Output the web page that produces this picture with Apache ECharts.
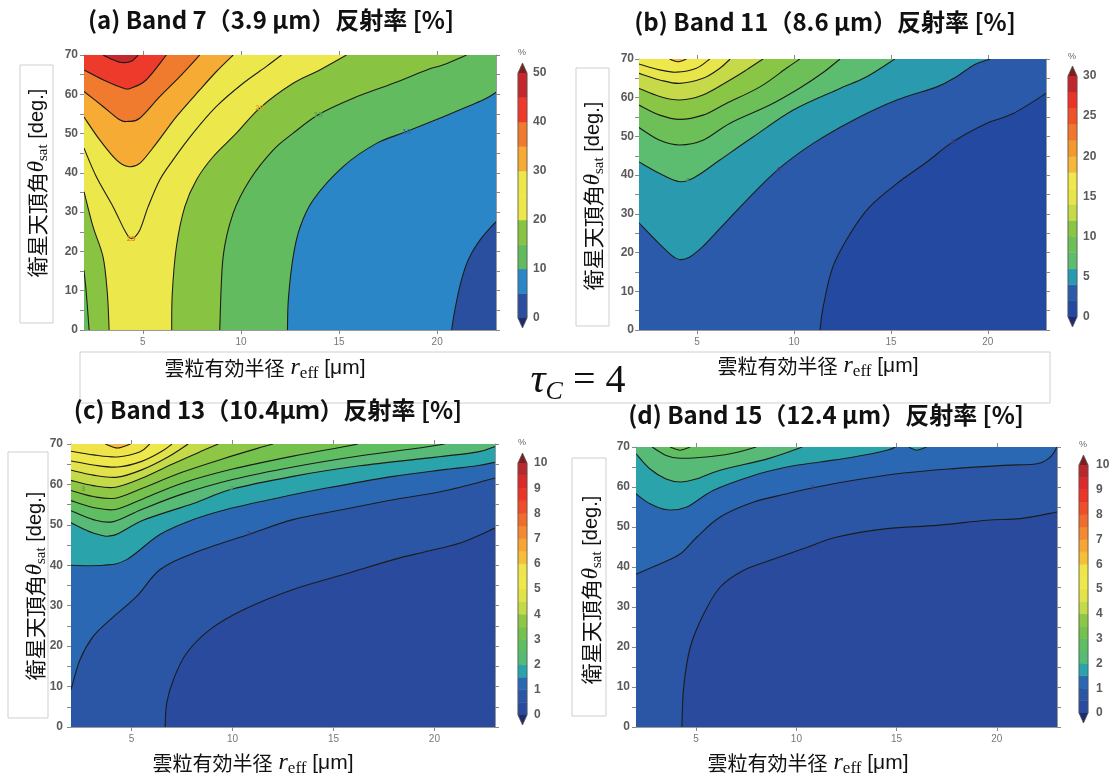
<!DOCTYPE html>
<html>
<head>
<meta charset="utf-8">
<title>tau_C = 4</title>
<script src="https://cdn.jsdelivr.net/npm/echarts@6.0.0/dist/echarts.min.js"></script>
<style>
html,body{margin:0;padding:0;background:#fff;}
#chart{width:1116px;height:783px;}
</style>
</head>
<body>
<div id="chart"></div>
<script>
// ================= DATA =================
const xTickValues = [5, 10, 15, 20];
const yTickValues = [0, 10, 20, 30, 40, 50, 60, 70];
const yTickMarks = [0, 5, 10, 15, 20, 25, 30, 35, 40, 45, 50, 55, 60, 65, 70];

const titles = [
  '(a) Band 7（3.9 μm）反射率 [%]',
  '(b) Band 11（8.6 μm）反射率 [%]',
  '(c) Band 13（10.4μｍ）反射率 [%]',
  '(d) Band 15（12.4 μm）反射率 [%]'
];

// contour levels (colour-bar boundaries)
const aLevels = [0, 5, 10, 15, 20, 25, 30, 35, 40, 45, 50];
const bLevels = [0, 2, 4, 6, 8, 10, 12, 14, 16, 18, 20, 22, 24, 26, 28, 30];
const cdLevels = [0, 0.5, 1, 1.5, 2, 2.5, 3, 3.5, 4, 4.5, 5, 5.5, 6, 6.5, 7, 7.5, 8, 8.5, 9, 9.5, 10];
const aCbTicks = [0, 10, 20, 30, 40, 50];
const bCbTicks = [0, 5, 10, 15, 20, 25, 30];
const cdCbTicks = [0, 1, 2, 3, 4, 5, 6, 7, 8, 9, 10];

// ---- panel (a) contour lines [reff, theta] ----
const aLine5 = [[20.74,0],[20.9,5],[21.2,12],[21.6,18],[22.2,23],[23,27.6]];
const aLine10 = [[12.37,0],[12.42,8],[12.66,18.6],[13.0,26],[13.68,33.1],[15.21,41.6],[16.91,47.5],[18.45,50.5],[20.32,54.3],[22.36,58.6],[23,60.5]];
const aLine15L = [[2,15.2],[2.12,9.3],[2.26,0]];
const aLine15R = [[8.92,0],[9.09,18.6],[9.6,29.7],[10.45,38.2],[11.64,45.8],[12.66,50.1],[13.94,54.8],[15.72,59],[17.77,62.8],[19.47,66.2],[20.32,67.5],[21.5,70]];
const aLine20L = [[2,35.2],[2.46,26.3],[2.97,18.6],[3.19,9.3],[3.28,0]];
const aLine20R = [[6.47,0],[6.5,9.3],[6.71,21.2],[7.14,31.4],[7.73,38.2],[8.58,44.1],[9.77,50.1],[10.96,56.5],[12.66,62.8],[14.02,66.2],[15.38,70]];
const aLine25 = [[2,46.3],[2.63,39],[3.48,31.4],[4.07,25.4],[4.41,23.3],[4.84,25.4],[5.27,31.4],[5.86,38.2],[6.54,43.3],[7.56,50.1],[8.75,56.9],[10.11,62.8],[11.3,67.1],[12.07,70]];
const aLine30 = [[2,54.2],[2.8,48.4],[3.65,43.3],[4.24,41.6],[4.84,42.4],[5.69,47.5],[6.71,54.3],[7.9,61.1],[8.75,65.8],[9.6,70]];
const aLine35 = [[2,60.7],[2.97,56.9],[3.82,53.5],[4.24,53.1],[4.84,53.9],[5.86,59.4],[6.88,64.5],[7.9,70]];
const aLine40 = [[2,66.2],[2.97,63.7],[3.99,61.6],[4.41,61.6],[5.18,63.7],[6.2,70]];
const aLine45 = [[2.97,70],[3.48,68.8],[3.9,68.1],[4.41,68.4],[4.76,70]];
const aLabels = [[4.4,23.3,'25'],[10.96,56.5,'20'],[13.94,54.8,'15'],[18.45,50.5,'10']];

// ---- panel (b) ----
const bLine2 = [[11.34,0],[11.5,5.9],[12.0,16.3],[12.9,24.9],[13.9,31.8],[15.3,37.8],[16.85,43.4],[18.2,48.6],[19.95,53.4],[21.3,55.9],[23,61.1]];
const bLine4 = [[2,27.7],[3.0,22.5],[3.7,19.2],[4.1,18.2],[4.6,18.8],[5.3,21.6],[6.17,26.2],[7.55,33.5],[9.18,41.5],[10.99,48.2],[13.06,54.2],[15.3,59.4],[17.37,62.8],[18.4,65.5],[19.26,68.4],[20.12,70]];
const bLine6 = [[2,43.4],[3.07,40.4],[4.1,38.3],[4.96,39.7],[6.17,43.9],[7.9,49.9],[9.96,56.8],[12.2,62],[13.75,65.4],[15.2,70]];
const bLine8 = [[2,52.3],[3.07,49],[4.1,47.8],[5.3,49],[6.7,53.4],[8.75,58.1],[10.3,62.5],[11.5,66.5],[12.37,70]];
const bLine10 = [[2,58.1],[3.07,55.5],[4.1,54.4],[5.3,55.5],[6.5,58.5],[8.24,62.8],[9.6,67.6],[10.3,70]];
const bLine12 = [[2,62.4],[3.07,60.3],[4.1,59.4],[5.3,60.7],[6.7,64.6],[7.55,67.2],[8.4,70]];
const bLine14 = [[2,66.3],[3.07,64.6],[4.1,63.7],[5.3,65],[6.17,67.6],[6.7,70]];
const bLine16 = [[2,68.7],[3.07,67.2],[3.93,66.6],[4.96,67.6],[5.65,70]];
const bLine18 = [[3.58,70],[4.0,69.3],[4.45,70]];
const bLabels = [[18.2,48.6,'2'],[9.18,41.5,'4'],[4.53,38.5,'6']];

// ---- panel (c) ----
const cLine05 = [[6.66,0],[6.74,5.9],[7.07,11.7],[7.73,18.3],[8.88,24.1],[10.54,29],[13.0,34],[15.5,37.7],[17.97,41.4],[19.6,43.4],[21.27,45.5],[23,49.2]];
const cLine1 = [[2,9.2],[2.45,16.7],[3.1,22.4],[3.93,26.5],[5.25,32.3],[6.4,38.9],[8.06,43],[10.83,47.7],[13,51.3],[15.5,53.8],[17.97,56.2],[20.4,58.3],[23,61.6]];
const cLine15 = [[2,40],[3.6,40],[4.76,41.4],[6.4,47.6],[8.06,51.3],[9.7,53.8],[12.19,56.6],[14.66,59.1],[17.97,62],[20.4,63.6],[22.1,64.6],[23,65.5]];
const cLine2 = [[2,50.5],[3.1,48],[4.1,47.4],[5.6,51.2],[8.06,55.3],[9.96,58.8],[13,62],[16.3,64.6],[19.6,66.5],[22.1,68],[23,69.4]];
const cLine25 = [[2,53.5],[3.1,51.3],[4.1,50.8],[5.5,53.8],[7.5,57.6],[10,61.2],[13,64.3],[16.5,67.2],[19.5,69.2],[20.5,70]];
const cLine3 = [[2,56],[3.1,54.3],[4.2,53.8],[5.5,56.3],[7.5,60.3],[10,63.8],[13,67],[15.5,69.3],[16.2,70]];
const cLine35 = [[2,58.5],[3.1,57],[4.2,56.6],[5.5,59],[7.5,63],[9.5,66.3],[11.5,69.3],[12,70]];
const cLine4 = [[2,61],[3.1,59.7],[4.2,59.3],[5.5,61.5],[7,65],[8.5,68.3],[9.3,70]];
const cLine45 = [[2,63.5],[3.1,62.3],[4.3,61.8],[5.5,63.6],[6.8,66.8],[7.8,70]];
const cLine5 = [[2,65.8],[3.1,64.8],[4.3,64.3],[5.5,65.7],[6.5,68.2],[7,70]];
const cLine55 = [[2,68.2],[3.1,67.3],[4.3,66.8],[5.4,68],[5.9,70]];
const cLine6 = [[3.7,70],[4.3,69],[4.95,70]];
const cLabels = [[9.96,58.8,'2'],[2.6,58.9,'3'],[10.83,47.7,'1']];

// ---- panel (d) ----
const dLine05 = [[4.29,0],[4.38,10],[4.71,20],[5.38,28.3],[6.2,35],[7.37,39.2],[8.7,41.7],[10.36,44.6],[12.03,47.5],[14.52,49.6],[17.0,50.4],[19.5,51.7],[21.17,52.1],[23,53.75]];
const dLine1 = [[2,38.2],[3.21,40.8],[4.21,43.3],[5.04,47.5],[6.2,52.5],[7.87,56.25],[9.53,58.3],[10.83,59.8],[12.86,61.7],[15.35,63.5],[17.85,64.6],[20.34,65.4],[22.0,65.8],[22.67,67.5],[23,70]];
const dLine15 = [[2,58.3],[2.7,55.8],[3.55,54.3],[4.54,55],[5.87,59.2],[7.87,62.9],[9.53,65],[11.2,66.25],[12.86,67.5],[14.52,69.2],[14.94,70]];
const dLine15b = [[15.6,70],[16.0,69.2],[16.5,70]];
const dLine2 = [[2,68.3],[2.7,64.5],[3.5,62],[4.21,61.25],[5,62],[6.2,64.2],[8.6,67.1],[10.3,70]];
const dLine25 = [[2.8,70],[3.5,67.9],[4.2,67.2],[5.5,67.5],[6.7,68.3],[8,70]];
const dLine3 = [[3.7,70],[4.2,69.2],[4.7,70]];
const dLabels = [[10.83,59.8,'1']];

// ================= STYLE / LAYOUT =================
const aColors = ['#2a4f9f','#2a86c6','#62bc5f','#88c441','#ece74a','#ece84b','#f6ab34','#f07a2d','#ed3a2a','#c4282d'];
const bColors = ['#2349a0','#2c5aab','#2a9aae','#5cbd70','#6dc058','#8ac645','#c5d949','#e8e54b','#efe84b','#f5b83a','#f4992f','#f0772d','#ee532a','#ea3427','#c0282c'];
const cdColors = ['#2a4a9e','#2b56a6','#2b68b4','#2aa4aa','#57ba76','#60be62','#74c24d','#8ec745','#c4da49','#e2e24b','#efe84b','#efe44a','#f6bf3a','#f7a535','#f38a31','#f06c2d','#ee4f2a','#eb3527','#dc2a28','#b8282d'];
const overColor = '#7d1f20', underColor = '#1f2b6b';

const S = pts => ({s: pts}); // straight edge segment (plot frame)
const FULL = S([[2,0],[23,0],[23,70],[2,70]]);

const aRegions = [
  {band:0, parts:[FULL]},
  {band:1, parts:[aLine5, S([[23,70],[2,70],[2,0]])]},
  {band:2, parts:[aLine10, S([[23,70],[2,70],[2,0]])]},
  {band:3, parts:[aLine15L, aLine15R, S([[2,70]])]},
  {band:4, parts:[aLine20L, aLine20R, S([[2,70]])]},
  {band:5, parts:[aLine25, S([[2,70]])]},
  {band:6, parts:[aLine30, S([[2,70]])]},
  {band:7, parts:[aLine35, S([[2,70]])]},
  {band:8, parts:[aLine40, S([[2,70]])]},
  {band:9, parts:[aLine45]}
];
const bRegions = [
  {band:0, parts:[FULL]},
  {band:1, parts:[bLine2, S([[23,70],[2,70],[2,0]])]},
  {band:2, parts:[bLine4, S([[2,70]])]},
  {band:3, parts:[bLine6, S([[2,70]])]},
  {band:4, parts:[bLine8, S([[2,70]])]},
  {band:5, parts:[bLine10, S([[2,70]])]},
  {band:6, parts:[bLine12, S([[2,70]])]},
  {band:7, parts:[bLine14, S([[2,70]])]},
  {band:8, parts:[bLine16, S([[2,70]])]},
  {band:9, parts:[bLine18]}
];
const cRegions = [
  {band:0, parts:[FULL]},
  {band:1, parts:[cLine05, S([[23,70],[2,70],[2,0]])]},
  {band:2, parts:[cLine1, S([[23,70],[2,70]])]},
  {band:3, parts:[cLine15, S([[23,70],[2,70]])]},
  {band:4, parts:[cLine2, S([[23,70],[2,70]])]},
  {band:5, parts:[cLine25, S([[2,70]])]},
  {band:6, parts:[cLine3, S([[2,70]])]},
  {band:7, parts:[cLine35, S([[2,70]])]},
  {band:8, parts:[cLine4, S([[2,70]])]},
  {band:9, parts:[cLine45, S([[2,70]])]},
  {band:10, parts:[cLine5, S([[2,70]])]},
  {band:11, parts:[cLine55, S([[2,70]])]},
  {band:12, parts:[cLine6]}
];
const dRegions = [
  {band:0, parts:[FULL]},
  {band:1, parts:[dLine05, S([[23,70],[2,70],[2,0]])]},
  {band:2, parts:[dLine1, S([[2,70]])]},
  {band:3, parts:[dLine15, S([[2,70]])]},
  {band:3, parts:[dLine15b]},
  {band:4, parts:[dLine2, S([[2,70]])]},
  {band:5, parts:[dLine25]},
  {band:6, parts:[dLine3]}
];

const panels = [
  {grid:[84,55,412,275], cb:[518,73,9,245], levels:aLevels, colors:aColors, cbTicks:aCbTicks,
   regions:aRegions, lines:[aLine5,aLine10,aLine15L,aLine15R,aLine20L,aLine20R,aLine25,aLine30,aLine35,aLine40,aLine45],
   labels:aLabels, labelColors:['#e0882a','#d9a52a','#4f9f5a','#2f6fb0'], yMargin:6, cbMargin:6},
  {grid:[639,59,407,271], cb:[1068,76,9,241], levels:bLevels, colors:bColors, cbTicks:bCbTicks,
   regions:bRegions, lines:[bLine2,bLine4,bLine6,bLine8,bLine10,bLine12,bLine14,bLine16,bLine18],
   labels:bLabels, labelColors:['#3a3a8a','#4a3f8a','#3f8f8f'], yMargin:5, cbMargin:6},
  {grid:[71,444,424,283], cb:[518,463,9,252], levels:cdLevels, colors:cdColors, cbTicks:cdCbTicks,
   regions:cRegions, lines:[cLine05,cLine1,cLine15,cLine2,cLine25,cLine3,cLine35,cLine4,cLine45,cLine5,cLine55,cLine6],
   labels:cLabels, labelColors:['#4f9f6a','#6a9f4a','#4a3f8a'], yMargin:8, cbMargin:7},
  {grid:[636,447,421,280], cb:[1079,465,9,248], levels:cdLevels, colors:cdColors, cbTicks:cdCbTicks,
   regions:dRegions, lines:[dLine05,dLine1,dLine15,dLine15b,dLine2,dLine25,dLine3],
   labels:dLabels, labelColors:['#4a3f8a'], yMargin:6, cbMargin:8}
];

// ================= RENDER HELPERS =================
function crSegs(pts){
  let s = '';
  for (let i = 0; i < pts.length - 1; i++) {
    const p0 = pts[Math.max(i-1,0)], p1 = pts[i], p2 = pts[i+1], p3 = pts[Math.min(i+2, pts.length-1)];
    const c1 = [p1[0] + (p2[0]-p0[0])/6, p1[1] + (p2[1]-p0[1])/6];
    const c2 = [p2[0] - (p3[0]-p1[0])/6, p2[1] - (p3[1]-p1[1])/6];
    s += 'C' + c1[0].toFixed(2) + ',' + c1[1].toFixed(2) + ' ' + c2[0].toFixed(2) + ',' + c2[1].toFixed(2) + ' ' + p2[0].toFixed(2) + ',' + p2[1].toFixed(2);
  }
  return s;
}
function partsPath(api, parts){
  let d = '';
  parts.forEach(part => {
    const straight = !Array.isArray(part);
    const pts = (straight ? part.s : part).map(p => api.coord(p));
    pts.forEach((p, i) => {
      if (i === 0 || straight) d += (d === '' ? 'M' : 'L') + p[0].toFixed(2) + ',' + p[1].toFixed(2);
    });
    if (!straight) d += crSegs(pts);
  });
  return d + 'Z';
}

const tickFont = 'Liberation Sans';
const grids = [], xAxes = [], yAxes = [], series = [];

function frameAxisX(gi, pos, withLabel){
  return {gridIndex:gi, type:'value', min:2, max:23, position:pos,
    axisLine:{show:true, onZero:false, lineStyle:{color:'#9a9a9a', width:1}},
    axisTick:{show:true, inside:false, length:4, customValues:xTickValues, lineStyle:{color:'#888'}},
    axisLabel:{show:withLabel, customValues:xTickValues, color:'#777', fontSize:10, margin:7, fontFamily:tickFont},
    splitLine:{show:false}};
}
function frameAxisY(gi, pos, withLabel, margin){
  return {gridIndex:gi, type:'value', min:0, max:70, interval:10, position:pos,
    axisLine:{show:true, onZero:false, lineStyle:{color:'#9a9a9a', width:1}},
    axisTick:{show:true, inside:false, length:4, customValues:yTickMarks, lineStyle:{color:'#888'}},
    axisLabel:{show:withLabel, customValues:yTickValues, color:'#5a5a5a', fontSize:12, fontWeight:'bold', margin:margin, fontFamily:tickFont},
    splitLine:{show:false}};
}

panels.forEach((P, gi) => {
  grids.push({left:P.grid[0], top:P.grid[1], width:P.grid[2], height:P.grid[3]});
  const xi = xAxes.length, yi = yAxes.length;
  xAxes.push(frameAxisX(gi,'bottom',true), frameAxisX(gi,'top',false));
  yAxes.push(frameAxisY(gi,'left',true,P.yMargin), frameAxisY(gi,'right',false,0));
  series.push({type:'custom', xAxisIndex:xi, yAxisIndex:yi, clip:true, silent:true, z:2,
    data:P.regions.map(() => [2,0]),
    renderItem:(params, api) => {
      const r = P.regions[params.dataIndex];
      const col = P.colors[r.band];
      return {type:'path', shape:{pathData:partsPath(api, r.parts)}, style:{fill:col, stroke:col, lineWidth:0.6}};
    }});
  series.push({type:'custom', xAxisIndex:xi, yAxisIndex:yi, clip:true, silent:true, z:3,
    data:P.lines.map(() => [2,0]),
    renderItem:(params, api) => {
      const pts = P.lines[params.dataIndex].map(p => api.coord(p));
      return {type:'path', shape:{pathData:'M' + pts[0][0].toFixed(2) + ',' + pts[0][1].toFixed(2) + crSegs(pts)},
        style:{fill:'none', stroke:'#1c1c1c', lineWidth:1.1}};
    }});
  series.push({type:'custom', xAxisIndex:xi, yAxisIndex:yi, clip:true, silent:true, z:4,
    data:P.labels.map(() => [2,0]),
    renderItem:(params, api) => {
      const L = P.labels[params.dataIndex];
      const p = api.coord([L[0], L[1]]);
      return {type:'text', x:p[0], y:p[1], style:{text:L[2], fill:P.labelColors[params.dataIndex], fontSize:8, fontWeight:'bold', fontFamily:tickFont, align:'center', verticalAlign:'middle'}};
    }});
});

panels.forEach((P, k) => {
  const gi = grids.length;
  grids.push({left:P.cb[0], top:P.cb[1], width:P.cb[2], height:P.cb[3]});
  const xi = xAxes.length, yi = yAxes.length;
  const vmax = P.levels[P.levels.length-1];
  xAxes.push({gridIndex:gi, type:'value', min:0, max:1, show:false});
  yAxes.push({gridIndex:gi, type:'value', min:0, max:vmax, position:'right',
    axisLine:{show:false},
    axisTick:{show:true, length:4, customValues:P.cbTicks, lineStyle:{color:'#777'}},
    axisLabel:{customValues:P.cbTicks, color:'#5a5a5a', fontSize:12, fontWeight:'bold', margin:P.cbMargin, fontFamily:tickFont},
    splitLine:{show:false}});
  series.push({type:'custom', xAxisIndex:xi, yAxisIndex:yi, silent:true, z:2,
    data:P.colors.map(() => [0,0]),
    renderItem:(params, api) => {
      const i = params.dataIndex;
      const p0 = api.coord([0, P.levels[i]]), p1 = api.coord([1, P.levels[i+1]]);
      return {type:'rect', shape:{x:p0[0], y:p1[1], width:p1[0]-p0[0], height:p0[1]-p1[1]},
        style:{fill:P.colors[i], stroke:P.colors[i], lineWidth:0.5}};
    }});
  series.push({type:'custom', xAxisIndex:xi, yAxisIndex:yi, silent:true, z:3,
    data:[[0,0]],
    renderItem:(params, api) => {
      const b = api.coord([0,0]), t = api.coord([1,vmax]);
      const x0 = b[0], x1 = t[0], xm = (x0+x1)/2, yb = b[1], yt = t[1], h = 10;
      return {type:'group', children:[
        {type:'polygon', shape:{points:[[x0,yt],[x1,yt],[xm,yt-h]]}, style:{fill:overColor}},
        {type:'polygon', shape:{points:[[x0,yb],[x1,yb],[xm,yb+h]]}, style:{fill:underColor}},
        {type:'polygon', shape:{points:[[x0,yt],[xm,yt-h],[x1,yt],[x1,yb],[xm,yb+h],[x0,yb]]}, style:{fill:'none', stroke:'#555', lineWidth:0.8}}
      ]};
    }});
});

// ================= TEXT (graphic) =================
const cjk = '"Noto Sans CJK JP"';
const serif = '"Liberation Serif"';
function xTitle(cx, cy){
  return {type:'text', x:cx, y:cy, z:10, style:{
    text:'{a|雲粒有効半径}{r| r}{s|eff}{b| [μm]}', align:'center', verticalAlign:'middle',
    rich:{
      a:{fontFamily:cjk, fontSize:20, fill:'#111', lineHeight:28, verticalAlign:'middle'},
      r:{fontFamily:serif, fontStyle:'italic', fontSize:24, fill:'#111', lineHeight:28, verticalAlign:'middle'},
      s:{fontFamily:serif, fontSize:17, fill:'#111', lineHeight:16, verticalAlign:'bottom'},
      b:{fontFamily:'Liberation Sans', fontSize:21, fill:'#111', lineHeight:28, verticalAlign:'middle'}
    }}};
}
function yTitle(cx, cy){
  return {type:'text', x:cx, y:cy, rotation:Math.PI/2, z:10, style:{
    text:'{a|衛星天頂角}{t|θ}{s|sat}{b| [deg.]}', align:'center', verticalAlign:'middle',
    rich:{
      a:{fontFamily:cjk, fontSize:21, fill:'#111', lineHeight:28, verticalAlign:'middle'},
      t:{fontFamily:serif, fontStyle:'italic', fontSize:23, fill:'#111', lineHeight:28, verticalAlign:'middle'},
      s:{fontFamily:serif, fontSize:15, fill:'#111', lineHeight:15, verticalAlign:'bottom'},
      b:{fontFamily:'Liberation Sans', fontSize:20, fill:'#111', lineHeight:28, verticalAlign:'middle'}
    }}};
}
function title(cx, cy, txt){
  return {type:'text', x:cx, y:cy, z:10, style:{text:txt, fontFamily:cjk, fontWeight:'bold', fontSize:24, fill:'#111', align:'center', verticalAlign:'middle'}};
}
function box(x, y, w, h){
  return {type:'rect', z:1, shape:{x:x, y:y, width:w, height:h}, style:{fill:'none', stroke:'#cfcfcf', lineWidth:1}};
}
function pct(x, y){
  return {type:'text', x:x, y:y, z:10, style:{text:'%', fontFamily:tickFont, fontSize:9, fill:'#666', align:'center', verticalAlign:'middle'}};
}

const graphic = [
  box(20,65,33,258), box(576,68,33,258), box(8,452,40,266), box(572,458,34,258),
  box(80,352,970,51),
  title(271,20,titles[0]), title(825,22,titles[1]), title(268,410,titles[2]), title(826,415,titles[3]),
  xTitle(265,368), xTitle(818,366), xTitle(253,763), xTitle(808,763),
  yTitle(37,183), yTitle(593,196), yTitle(35,586), yTitle(591,590),
  pct(522,53), pct(1072,57), pct(522,443), pct(1083,445),
  {type:'text', x:578, y:381, z:10, style:{
    text:'{t|τ}{s|C}{e| = 4}', align:'center', verticalAlign:'middle',
    rich:{
      t:{fontFamily:serif, fontStyle:'italic', fontSize:42, fill:'#111', lineHeight:48, verticalAlign:'middle'},
      s:{fontFamily:serif, fontStyle:'italic', fontSize:26, fill:'#111', lineHeight:26, verticalAlign:'bottom'},
      e:{fontFamily:serif, fontSize:40, fill:'#111', lineHeight:48, verticalAlign:'middle'}
    }}}
];

const chart = echarts.init(document.getElementById('chart'), null, {renderer:'canvas'});
chart.setOption({
  animation:false,
  backgroundColor:'#ffffff',
  grid:grids, xAxis:xAxes, yAxis:yAxes, series:series, graphic:graphic
});
</script>
</body>
</html>
